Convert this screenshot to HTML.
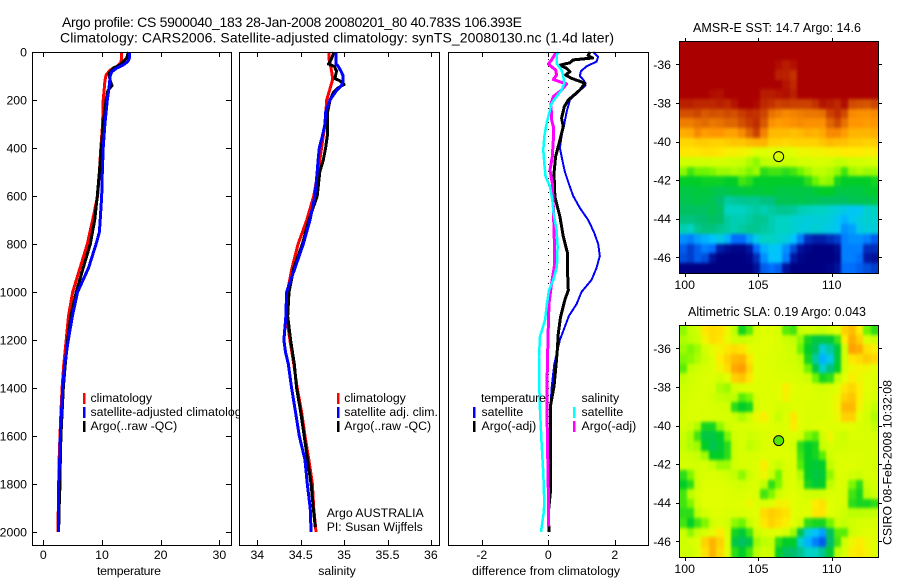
<!DOCTYPE html>
<html lang="en">
<head>
<meta charset="utf-8">
<title>Argo profile 5900040_183</title>
<style>
html,body{margin:0;padding:0;background:#fff;}
svg{display:block;}
text{font-family:"Liberation Sans",sans-serif;font-size:12.3px;fill:#000;}
.ttl{font-size:14px;}
.map-ttl{font-size:12.5px;}
</style>
</head>
<body>
<svg id="chart" xmlns="http://www.w3.org/2000/svg" width="900" height="580" viewBox="0 0 900 580">
<defs>
<clipPath id="p1clip"><rect x="0" y="0" width="239" height="580"/></clipPath>
<filter id="sstSoft" filterUnits="userSpaceOnUse" x="679" y="41" width="199" height="232" color-interpolation-filters="sRGB"><feGaussianBlur stdDeviation="1.3 1.6"/><feComponentTransfer><feFuncA type="linear" slope="20"/></feComponentTransfer></filter>
<filter id="slaSoft" filterUnits="userSpaceOnUse" x="679" y="325" width="199" height="232" color-interpolation-filters="sRGB"><feGaussianBlur stdDeviation="1.3 1.6"/><feComponentTransfer><feFuncA type="linear" slope="20"/></feComponentTransfer></filter>
</defs>
<rect x="0" y="0" width="900" height="580" fill="#fff"/>
<text class="ttl" x="62" y="27" textLength="460" lengthAdjust="spacing">Argo profile: CS 5900040_183 28-Jan-2008 20080201_80 40.783S 106.393E</text>
<text class="ttl" x="60" y="42.5" textLength="554" lengthAdjust="spacing">Climatology: CARS2006. Satellite-adjusted climatology: synTS_20080130.nc (1.4d later)</text>
<g id="marks"></g>

<text x="129" y="575" text-anchor="middle" textLength="64">temperature</text>
<text x="337" y="575" text-anchor="middle">salinity</text>
<text x="546" y="575" text-anchor="middle" textLength="148">difference from climatology</text>

<g>
<rect x="83" y="393" width="2.5" height="11" fill="#f00"/>
<rect x="83" y="407" width="2.5" height="11" fill="#00f"/>
<rect x="83" y="421" width="2.5" height="11" fill="#000"/>
<text x="90.5" y="402">climatology</text>
<text x="90.5" y="416" clip-path="url(#p1clip)">satellite-adjusted climatology</text>
<text x="90.5" y="430">Argo(..raw -QC)</text>
</g>
<g>
<rect x="337" y="393" width="2.5" height="11" fill="#f00"/>
<rect x="337" y="407" width="2.5" height="11" fill="#00f"/>
<rect x="337" y="421" width="2.5" height="11" fill="#000"/>
<text x="344.3" y="402">climatology</text>
<text x="344.3" y="416">satellite adj. clim.</text>
<text x="344.3" y="430">Argo(..raw -QC)</text>
<text x="326.7" y="517">Argo AUSTRALIA</text>
<text x="326.7" y="531">PI: Susan Wijffels</text>
</g>
<g>
<text x="481" y="402" textLength="65">temperature</text>
<text x="481.5" y="416">satellite</text>
<text x="481.5" y="430">Argo(-adj)</text>
<rect x="473" y="407" width="2.5" height="11" fill="#00f"/>
<rect x="473" y="421" width="2.5" height="11" fill="#000"/>
<text x="581.5" y="402">salinity</text>
<text x="581.5" y="416">satellite</text>
<text x="581.5" y="430">Argo(-adj)</text>
<rect x="573" y="407" width="2.5" height="11" fill="#0ff"/>
<rect x="573" y="421" width="2.5" height="11" fill="#f0f"/>
</g>

<text class="map-ttl" x="693" y="32" textLength="168">AMSR-E SST: 14.7 Argo: 14.6</text>
<text class="map-ttl" x="688" y="316" textLength="178">Altimetric SLA: 0.19 Argo: 0.043</text>
<text transform="translate(891.5,545) rotate(-90)" textLength="165">CSIRO 08-Feb-2008 10:32:08</text>
</svg>

<script>
// ---- category and tick data ----
const depthTicks = [0,200,400,600,800,1000,1200,1400,1600,1800,2000];
const tempTicks = [0,10,20,30];
const salTicks = [34,34.5,35,35.5,36];
const salTickLabels = ['34','34.5','35','35.5','36'];
const diffTicks = [-2,0,2];
const lonTicks = [100,105,110];
const latTicks = [-36,-38,-40,-42,-44,-46];

// ---- temperature panel ----
const tempClimDepth = [0,30,45,61,75,96,120,150,200,300,400,500,600,700,800,900,1000,1100,1200,1300,1400,1500,1600,1700,1800,1900,2000];
const tempClim = [13.35,13.3,13.2,12.5,11.4,10.7,10.5,10.4,10.2,10.1,9.8,9.55,9.25,8.4,7.5,6.25,5,4.3,3.9,3.5,3.2,3,2.85,2.7,2.7,2.55,2.5];
const tempSatDepth = [0,25,40,54,67,83,100,150,200,300,400,500,600,700,750,800,900,1000,1100,1200,1300,1400,1500,1600,1700,1800,1900,2000];
const tempSat = [14.66,14.66,14.4,13.6,12.5,11.65,11.4,11.2,10.9,10.5,10.2,10.05,9.95,9.7,9.55,9,7.7,5.85,4.95,4.26,3.65,3.3,3.1,2.9,2.8,2.6,2.55,2.55];
const tempArgoDepth = [0,25,33,54,67,90,120,140,160,200,300,400,500,600,700,800,900,1000,1100,1200,1300,1400,1500,1600,1700,1800,1900,2000];
const tempArgo = [14.5,14.2,13.9,13.07,11.9,11.2,11.4,11.7,11,10.7,10.2,9.9,9.55,9.2,8.75,8,6.8,5.6,4.7,4.15,3.75,3.4,3.2,3,2.9,2.85,2.7,2.6];

// ---- salinity panel ----
const salClimDepth = [0,30,50,80,100,120,150,200,250,300,400,500,600,700,800,900,1000,1100,1200,1300,1400,1500,1600,1700,1800,1900,2000];
const salClim = [34.826,34.826,34.84,34.856,34.864,34.864,34.84,34.8,34.79,34.78,34.74,34.7,34.65,34.57,34.47,34.4,34.346,34.338,34.376,34.42,34.46,34.51,34.55,34.595,34.635,34.65,34.676];
const salSatDepth = [0,30,50,60,80,100,120,140,160,180,200,250,300,350,400,450,500,600,700,800,900,1000,1100,1200,1250,1300,1400,1500,1600,1700,1800,1900,2000];
const salSat = [34.906,34.906,34.906,34.933,34.964,34.99,34.99,34.97,34.914,34.876,34.837,34.787,34.78,34.75,34.714,34.7,34.69,34.664,34.607,34.53,34.434,34.338,34.33,34.307,34.325,34.357,34.395,34.44,34.484,34.55,34.576,34.61,34.62];
const salArgoDepth = [0,20,40,50,60,80,100,110,120,135,150,170,200,250,300,350,400,450,500,600,700,800,900,1000,1100,1200,1300,1400,1500,1600,1700,1800,1900,1980];
const salArgo = [34.883,34.864,34.837,34.82,34.887,34.914,34.9,34.893,34.95,35,34.93,34.876,34.837,34.81,34.806,34.806,34.787,34.76,34.72,34.69,34.595,34.52,34.42,34.365,34.35,34.384,34.426,34.453,34.5,34.54,34.58,34.62,34.645,34.668];

// ---- difference panel ----
const diffTempSatDepth = [0,20,40,60,80,100,120,140,160,200,250,300,350,400,450,500,550,600,650,700,750,800,850,900,950,1000,1050,1100,1200,1300,1400,1500,1600,1700,1800,1900,2000];
const diffTempSat = [1.35,1.5,1.45,1.15,0.98,0.95,1.08,1.12,0.95,0.65,0.55,0.48,0.4,0.35,0.42,0.5,0.62,0.75,0.95,1.2,1.37,1.5,1.55,1.45,1.3,1,0.85,0.62,0.35,0.18,0.1,0.06,0.04,0.03,0.02,0.02,0.03];
const diffTempArgoDepth = [0,15,25,33,45,55,68,82,96,110,122,131,158,200,228,276,311,367,436,506,603,686,769,839,922,992,1033,1103,1172,1242,1311,1394,1478,1631,1825,1922,1999];
const diffTempArgo = [1.25,1.2,1.33,0.75,0.65,0.35,0.55,0.65,0.52,0.7,0.95,1.1,0.95,0.6,0.48,0.4,0.45,0.35,0.22,0.17,0.2,0.35,0.45,0.58,0.58,0.6,0.5,0.37,0.3,0.27,0.23,0.17,0.06,0.07,0.07,0,0.02];
const diffSalSatDepth = [0,15,47,75,103,131,158,186,214,242,297,353,408,464,519,561,617,672,742,811,894,950,992,1047,1117,1186,1269,1394,1492,1631,1756,1881,1922,1999];
const diffSalSat = [0.3,0.25,0.25,0.4,0.45,0.48,0.4,0.25,0.1,0.05,-0.05,-0.12,-0.15,-0.12,-0.08,0.05,0.12,0.16,0.25,0.28,0.26,0.15,0.02,-0.04,-0.1,-0.25,-0.28,-0.27,-0.25,-0.2,-0.15,-0.12,-0.14,-0.22];
const diffSalArgoDepth = [0,5,33,50,75,96,114,124,133,158,186,214,283,311,367,436,492,547,644,783,894,964,1047,1144,1311,1492,1658,1825,1978];
const diffSalArgo = [0.22,0.22,0.1,0,0.22,0.25,0.15,0.35,0.55,0.4,0.15,0.08,0.1,0.15,0.15,0.12,0.05,0.12,0.15,0.18,0.18,0.1,0.02,0,-0.03,-0.04,-0.02,0,0];

// ---- map data: colour-level grids, one row per 0.5 degree of latitude (north to south), one value per 0.5 degree of longitude ----
const sstLevels = [
[10,10,10,10,10,10,10,10,10,10,10,10,10,10,10,10,10,10,10,10,10,10,10,10,10,10,10],
[10,10,10,10,10,10,10,10,10,10,10,10,10,10,10,10,10,10,10,10,10,10,10,10,10,10,10],
[10,10,10,10,10,10,10,10,10,10,10,10,10,9.7,9.3,9.6,10,10,10,10,10,10,10,10,10,10,10],
[10,10,10,10,10,10,10,10,10,10,10,10,10,9.2,9.2,8.8,10,10,10,10,10,10,10,10,10,10,10],
[10,10,10,10,10,10,10,10,10,10,10,10,10,10,9.5,9,10,10,10,10,10,10,10,10,10,10,10],
[10,10,10,10,9.7,9.6,10,10,10,10,10,9.3,9.3,9.5,9.6,9.2,10,10,10,10,10,10,10,10,10,10,10],
[9.2,9.2,9,9,9,9.2,9,9.5,10,10,9.8,9,8.8,8.5,8.6,8.5,8.5,8.5,8.8,9.5,9.3,9,9.7,8.3,8.2,8.1,8.4],
[8.2,8.2,8.4,8,8.2,8.1,8.3,8.2,8.6,8.9,8.8,8.4,7.6,7.4,7.2,7.3,7.4,7.5,7.5,7.6,8.5,8.9,8.3,7.2,7.1,7.1,7.2],
[7.4,7.4,7.6,7.7,7.5,7.6,7.8,7.8,8.2,8.6,8.9,8,7.1,6.9,7,7.1,7.2,7.1,7.1,7.1,7.8,8.3,7.6,7,7,6.9,7],
[6.6,6.7,7.2,6.9,7,7,6.8,6.8,7.2,7.8,8.5,7.3,6.4,6.4,6.4,6.3,6.4,6.6,6.5,6.7,7.2,7.2,6.9,6.5,6.5,6.5,6.6],
[5.9,5.9,6.1,6.1,6,6,6.1,6.2,6.2,6.4,6.5,6.5,6,6,5.9,6,6,6,6,6.2,6.4,6.3,6.3,6.1,6.1,6,6.1],
[5.6,5.6,5.6,5.7,5.7,5.6,5.4,5.4,5.3,5.2,4.9,4.9,5,4.9,4.9,5,5.2,5.2,5.3,5.3,5.4,5.4,5.5,5.5,5.5,5.4,5.5],
[4.5,4.5,4.5,4.5,4.6,4.6,4.5,4.4,4.3,3.9,3.7,4,4.2,4.3,4.4,4.4,4.6,4.6,4.7,4.7,4.6,4.1,4.2,4.5,4.5,4.6,4.7],
[3.7,3.3,3.5,3.5,3.6,3.8,3.8,3.9,3.8,3.6,3.8,3.2,3.3,3.3,3.2,3.3,3.5,3.8,4,4,3.9,3.7,3.3,3.8,3.9,3.8,3.8],
[3,3,3,3.05,3.05,3.05,3,3,3.3,3.2,3,3,3,3,3,3,3,3.2,3.5,3.8,3.7,3.1,3,3,3,3,3.1],
[2.8,2.8,2.85,2.85,2.8,2.7,2.75,2.8,2.85,2.9,2.85,2.9,2.9,2.8,2.8,2.8,2.8,2.8,2.9,3,3,2.8,2.8,2.8,2.8,2.9,3],
[2.7,2.75,2.8,2.75,2.7,2.5,2.2,2.25,2.3,2.3,2.3,2.4,2.4,2.7,2.7,2.7,2.75,2.7,2.7,2.6,2.6,2.6,2.6,2.7,2.7,2.7,2.8],
[2.6,2.6,2.6,2.6,2.7,2.55,2,2,2,2.1,2.2,2.1,2.2,2.3,2.3,2.25,2.1,2.05,2,2,1.9,1.8,1.7,1.6,1.6,1.9,2],
[2.4,2.4,2.45,2.5,2.6,2.5,2.2,2.1,2.1,2.2,2.3,2.3,2.1,2,2,1.9,1.85,1.8,1.8,1.85,1.8,1.6,1.4,1.6,1.8,1.9,1.9],
[2.1,2,2.3,2.4,2.4,2.3,2.2,2.1,2.2,2.3,2.3,2.2,2.1,2,2,1.9,1.8,1.8,1.9,1.8,1.7,1.6,1.2,1.3,1.7,1.8,1.8],
[1.2,1.1,1.3,1.4,1.5,1.7,1.4,1,1,1.3,1.7,2,2,1.9,1.8,1.5,1.1,0.6,0.5,0.5,0.6,0.7,1.1,1.2,1.2,1.1,0.9],
[0.9,0.7,0.9,1.1,1,0.5,0.2,0.1,0.1,0.4,1,1.4,1.6,1.5,1.2,0.8,0.3,0.1,0,0,0,0.2,1.1,1.1,1.1,0.6,0.6],
[0.8,0.7,0.9,0.8,0.3,0,0,0,0,0.1,0.6,1.2,1.5,1.5,1.1,0.4,0.1,0,0,0,0,0.1,1.1,1.1,1,0.4,0.3],
[0,0,0,0,0,0,0,0,0,0,0.3,0.9,1,0.9,0.3,0,0,0,0,0,0.1,0.3,1,1,0.9,0.8,0.7]
];
const slaLevels = [
[3.7,4.2,4.5,5.6,5.8,5.7,5.2,4,3.1,3.4,4.7,4.9,4.9,4.7,3.4,3.3,4.3,4.6,4.4,4.2,4.7,5,6,6.3,5.5,3.5,3.2],
[3.9,4,4.4,5.3,5.8,5.6,5.1,4.5,4.3,4.5,4.8,5,5,4.8,4.4,4.1,3.7,3.1,2.8,2.8,2.9,3.3,5.5,6.6,6,4.8,4.4],
[3.8,3.6,3.8,4.6,5.1,5.3,5.6,5.8,5.6,5.1,5,5,4.9,4.8,4.6,4.4,3.5,3,2.6,1.8,2.2,2.9,4.5,6.8,6.6,5.7,5.4],
[3.6,3.7,3.9,4.4,4.9,5.5,6,6.4,6.5,5.6,5,4.9,4.8,4.7,4.6,4.5,4,3.1,2.2,1.4,1.7,2.9,4.5,5.6,5.8,6.1,5.9],
[3.4,4.2,4.5,4.7,4.9,5.3,5.8,6.7,6.9,5.9,5,4.9,4.9,4.7,4.7,4.6,4.3,3.5,2.8,1.9,2.4,3,4.6,5.2,5.3,5.2,5],
[4.1,4.5,4.7,4.8,4.9,4.6,5,6,6.2,5.6,5,4.9,4.9,4.8,4.8,4.8,4.7,4.4,3.5,3.1,3.2,4,5,5.4,5.2,5,4.9],
[4.4,4.6,4.7,4.8,4.7,3.9,3.8,4.6,4.9,4.9,4.9,4.9,4.9,5,5.4,5,4.9,4.9,4.7,4.6,4.8,5,5.6,5.9,5.4,5,4.9],
[4.5,4.7,4.8,4.8,4.5,4.2,4,4,3.4,3.6,4.7,4.9,4.9,5,5.3,4.9,4.9,4.9,4.8,4.8,4.9,5.2,6,6.2,5.4,4.9,4.7],
[4.6,4.8,4.9,4.8,4.7,4.6,4.5,3.2,3,3.1,4.6,4.9,4.9,4.6,4.7,4.9,4.9,4.8,4.8,4.8,4.9,5.3,6.4,6.4,5.3,4.7,4.1],
[4.6,4.8,4.8,4.7,4.7,4.7,4.7,4.4,3.9,4.4,5.2,5.4,4.9,4.2,4.9,5.6,5,4.8,4.8,4.8,4.9,5.2,6,6,5,4.6,3.9],
[4.6,4.4,3.9,3.1,3.1,3.7,4.4,4.7,4.8,4.8,4.9,5,4.9,4.8,4.9,5.5,5,4.8,4.9,5,4.9,4.9,5,5,4.8,4.6,4.2],
[4.3,3.9,3.3,2.8,2.8,3,3.6,4.5,4.7,4.4,4.6,4.8,4.9,4.9,4.8,4.8,4.6,3.6,3.4,4.5,5.2,4.6,4.4,4.8,4.8,4.7,4.6],
[4.2,3.9,3.8,3,2.7,2.9,3.2,4.4,4.7,4,4.4,4.8,4.9,4.9,4.8,4.6,3.2,3,3.1,4.2,4.7,4.5,4.6,4.7,4.7,4.7,4.7],
[4.5,4.4,4.2,3.8,3,3,3.2,4.4,4.7,4.7,4.7,4.9,4.9,4.9,4.9,4.8,3.3,3,3.1,3.4,4.5,4.8,4.8,4.8,4.8,4.7,4.7],
[4.6,4.6,4.6,4.6,4.2,3.8,3.8,4.5,4.7,4.7,4.9,5.4,4.7,4.2,4.8,4.9,3.4,3,2.9,3,4,4.8,4.9,4.9,4.8,4.7,4.6],
[3.2,3.6,4.5,4.8,4.8,4.7,4.5,4.1,3.7,4.4,4.9,5.2,4.4,3.5,4.7,4.9,3.9,3,2.8,2.9,3.7,4.8,4.8,4.6,4.4,4.7,4.7],
[3,3.2,4.4,4.9,4.9,4.9,4.8,4.6,4.5,4.7,4.8,4,3.2,3.6,4.7,4.9,4.4,3.1,2.9,3,4,4.8,4.7,3.6,3.2,4.4,4.6],
[3.3,4,4.7,5,5,5,4.9,4.8,4.8,4.9,4.8,3.3,3.6,4.5,4.9,5,4.8,4.5,4.4,4.5,4.8,4.8,4.7,3.3,3.1,4,4.4],
[3.3,3.6,4.6,5,5,5,4.9,4.9,4.9,5.2,4.9,4.8,5,5.3,5.3,5,4.9,4.9,5.5,5.7,5,4.8,4.7,3.2,3.1,3.1,3.2],
[3.2,3.2,4,4.6,4.9,4.9,4.8,4.8,4.8,4.9,5,5.8,6.1,5.9,5.7,5,4.9,5,5.6,5.6,5,4.7,4.4,4,4,4.1,4.1],
[3.3,3,3.3,3.6,4.5,4.8,4.5,3.7,3.5,4.2,4.9,5.6,6,5.7,5.4,5,4.4,3.2,3.1,3.1,3.5,4.4,4.2,4.5,4.7,4.7,4.8],
[4.4,3.7,4.3,4.7,5.1,5.5,4.8,3.1,2.9,3.3,4.4,4.8,4.9,4.9,4.6,3.8,2.7,1.8,1.5,1.3,2.6,3.4,3.4,4.4,4.8,4.9,4.9],
[4.5,4.7,4.9,6,6.5,6,4.9,2.8,2.6,2.8,3.8,4,4.2,3.2,3,3,1.9,1.4,1.1,0.9,2.5,3.3,4.5,5.2,5.5,5.2,4.9],
[4.5,4.3,4.9,5.7,6.5,5.8,5,3.2,3,3.3,4,4.5,4.4,3,2.6,2.5,2.3,2,2,2.3,2.9,4,4.7,5.4,5.6,5.3,4.9]
];
const firstLon = 99.64;
const firstLat = -34.8;
const gridStep = 0.5;
const argoLon = 106.393;
const argoLat = -40.783;

// ---- colour scale (level -> rgb) ----
const scaleLevels = [0,0.5,1,1.5,2,2.5,3,3.5,4,5,5.5,6,7,8,9,10];
const scaleColours = [[0,0,130],[0,30,170],[0,110,255],[0,195,255],[0,210,195],[0,190,110],[0,205,40],[110,245,0],[190,255,0],[225,255,0],[255,235,0],[255,210,0],[255,150,0],[215,90,0],[190,40,0],[170,0,0]];

const SVGNS = 'http://www.w3.org/2000/svg';
const marksRoot = document.getElementById('marks');
let root = marksRoot;

// ---- axis functions ----
const depthY = d => 52 + d * 0.24;
const tempX = v => 43.3 + v * 5.87;
const salX = v => 257.3 + (v - 34) * 86.8;
const diffX = v => 548.3 + v * 33.25;
const lonX = v => 684.7 + (v - 100) * 14.7;
const latY1 = v => 64.3 + (-36 - v) * 19.3;
const latY2 = v => 348.3 + (-36 - v) * 19.3;

function add(tag, name, attrs, txt) {
  const el = document.createElementNS(SVGNS, tag);
  
  
  for (const k in attrs) el.setAttribute(k, attrs[k]);
  if (txt !== undefined) el.textContent = txt;
  root.appendChild(el);
  return el;
}

function line(name, x1, y1, x2, y2) {
  add('line', name, {x1: x1, y1: y1, x2: x2, y2: y2, stroke: '#000', 'stroke-width': 1, 'shape-rendering': 'crispEdges'});
}

function label(name, x, y, anchor, txt) {
  add('text', name, {x: x, y: y, 'text-anchor': anchor}, txt);
}

function profile(name, depths, values, xf, colour, width) {
  const pts = depths.map((d, i) => xf(values[i]).toFixed(1) + ',' + depthY(d).toFixed(1)).join(' ');
  add('polyline', name, {points: pts, fill: 'none', stroke: colour, 'stroke-width': width, 'stroke-linejoin': 'round', 'shape-rendering': 'crispEdges'});
}

function panelFrame(name, left, right, top, bottom) {
  add('rect', name, {x: left + 0.5, y: top + 0.5, width: right - left, height: bottom - top, fill: 'none', stroke: '#000', 'stroke-width': 1, 'shape-rendering': 'crispEdges'});
}

const pTop = 52, pBot = 545;

function xAxis(name, ticks, labels, xf) {
  ticks.forEach((t, i) => {
    const x = Math.round(xf(t)) + 0.5;
    line(name + '-tick-top', x, pTop, x, pTop + 5);
    line(name + '-tick-bottom', x, pBot, x, pBot - 5);
    label(name + '-tick-label', xf(t), 559, 'middle', labels[i]);
  });
}

// temperature panel
profile('temperature-climatology-line', tempClimDepth, tempClim, tempX, '#f00', 3);
profile('temperature-argo-line', tempArgoDepth, tempArgo, tempX, '#000', 3);
profile('temperature-satellite-line', tempSatDepth, tempSat, tempX, '#00f', 3);
panelFrame('temperature-axes-frame', 32, 231, pTop, pBot);
xAxis('temperature-x', tempTicks, tempTicks.map(String), tempX);
depthTicks.forEach(d => {
  const y = Math.round(depthY(d)) + 0.5;
  line('depth-tick-left', 32, y, 37, y);
  line('depth-tick-right', 231, y, 226, y);
  label('depth-tick-label', 27, depthY(d) + 4.5, 'end', String(d));
});

// salinity panel
profile('salinity-climatology-line', salClimDepth, salClim, salX, '#f00', 3);
profile('salinity-argo-line', salArgoDepth, salArgo, salX, '#000', 3);
profile('salinity-satellite-line', salSatDepth, salSat, salX, '#00f', 3);
panelFrame('salinity-axes-frame', 239, 439, pTop, pBot);
xAxis('salinity-x', salTicks, salTickLabels, salX);

// difference panel
add('line', 'zero-difference-line', {x1: diffX(0), y1: depthY(0), x2: diffX(0), y2: pBot, stroke: '#000', 'stroke-width': 1, 'stroke-dasharray': '1 6', 'shape-rendering': 'crispEdges'});
profile('difference-temp-satellite-line', diffTempSatDepth, diffTempSat, diffX, '#00f', 2);
profile('difference-temp-argo-line', diffTempArgoDepth, diffTempArgo, diffX, '#000', 3);
profile('difference-sal-argo-line', diffSalArgoDepth, diffSalArgo, diffX, '#f0f', 3);
profile('difference-sal-satellite-line', diffSalSatDepth, diffSalSat, diffX, '#0ff', 2.5);
panelFrame('difference-axes-frame', 448, 648, pTop, pBot);
xAxis('difference-x', diffTicks, diffTicks.map(String), diffX);

// maps
function levelColour(v) {
  let i = 0;
  while (i < scaleLevels.length - 2 && v > scaleLevels[i + 1]) i++;
  const f = Math.min(1, Math.max(0, (v - scaleLevels[i]) / (scaleLevels[i + 1] - scaleLevels[i])));
  const a = scaleColours[i], b = scaleColours[i + 1];
  return 'rgb(' + a.map((c, k) => Math.round(c + (b[k] - c) * f)).join(',') + ')';
}

function mapPanel(name, grid, latY, softFilter, fillMarker) {
  root = add('g', name + '-cells', {filter: 'url(#' + softFilter + ')'});
  grid.forEach((row, r) => {
    row.forEach((v, c) => {
      const lon = firstLon + c * gridStep, lat = firstLat - r * gridStep;
      const x0 = Math.round(lonX(lon)), x1 = Math.round(lonX(lon + gridStep));
      const y0 = Math.round(latY(lat)), y1 = Math.round(latY(lat - gridStep));
      add('rect', name + '-cell', {x: x0, y: y0, width: x1 - x0, height: y1 - y0, fill: levelColour(v), 'shape-rendering': 'crispEdges'});
    });
  });
  root = marksRoot;
  const left = Math.round(lonX(firstLon)), right = Math.round(lonX(firstLon + grid[0].length * gridStep));
  const top = Math.round(latY(firstLat)), bottom = Math.round(latY(firstLat - grid.length * gridStep));
  panelFrame(name + '-frame', left, right, top, bottom);
  lonTicks.forEach(t => {
    const x = Math.round(lonX(t)) + 0.5;
    line(name + '-tick-top', x, top, x, top - 3);
    line(name + '-tick-bottom', x, bottom + 1, x, bottom + 4);
    label(name + '-lon-label', lonX(t), bottom + 16, 'middle', String(t));
  });
  latTicks.forEach(t => {
    const y = Math.round(latY(t)) + 0.5;
    line(name + '-tick-left', left, y, left - 3, y);
    line(name + '-tick-right', right + 1, y, right + 4, y);
    label(name + '-lat-label', 671, latY(t) + 4.5, 'end', String(t));
  });
  add('circle', name + '-argo-marker', {cx: lonX(argoLon), cy: latY(argoLat), r: 5, fill: fillMarker, stroke: '#000', 'stroke-width': 1});
}

mapPanel('sst-map', sstLevels, latY1, 'sstSoft', 'none');
mapPanel('sla-map', slaLevels, latY2, 'slaSoft', '#55e600');
</script>
</body>
</html>
